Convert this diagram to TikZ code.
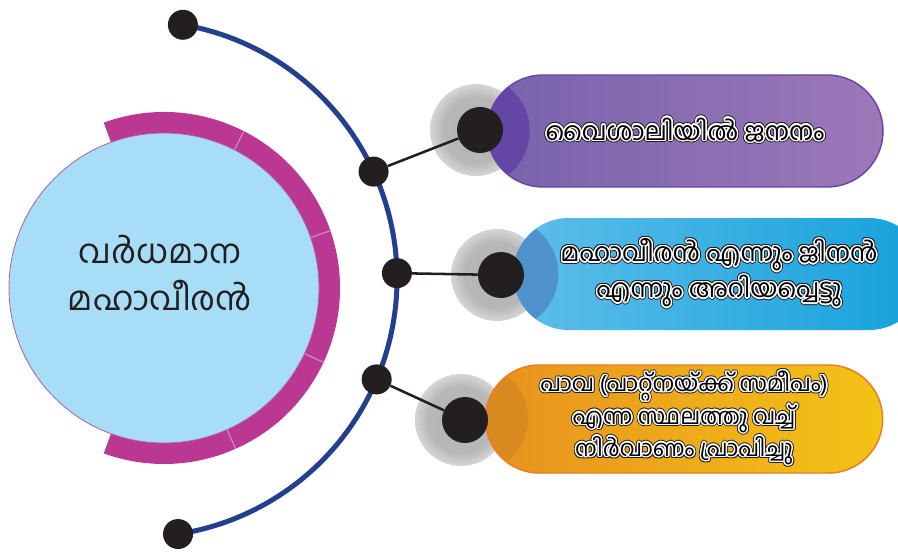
\documentclass[tikz,border=0pt]{standalone}
\usepackage{fontspec}
\newfontfamily\malfont[Script=Malayalam]{Hind Kochi}
\usepackage{contour}
\usetikzlibrary{arrows.meta}

\definecolor{hubblue}{HTML}{A7DDF6}
\definecolor{hubedge}{HTML}{B15BAA}
\definecolor{ringmagenta}{HTML}{BB3892}
\definecolor{ringsep}{HTML}{D98BC3}
\definecolor{arcblue}{HTML}{233F8D}
\definecolor{dotblack}{HTML}{231F20}
\definecolor{purpleL}{HTML}{7862AD}
\definecolor{purpleR}{HTML}{9C78B8}
\definecolor{purpleTab}{HTML}{5F40A3}
\definecolor{purpleEdge}{HTML}{6B45A8}
\definecolor{blueL}{HTML}{5DBEEA}
\definecolor{blueR}{HTML}{15A1DB}
\definecolor{blueTab}{HTML}{4F92CB}
\definecolor{orangeL}{HTML}{E8911E}
\definecolor{orangeR}{HTML}{F3C316}
\definecolor{orangeTab}{HTML}{D98A1F}
\definecolor{orangeEdge}{HTML}{EC7B1F}

\newcommand{\halo}[1]{\leavevmode\rlap{\contourlength{1.8pt}\contour{dotblack}{#1}}\contourlength{1.1pt}\contour{white}{#1}}

\pgfdeclareradialshading{dotglow}{\pgfpoint{0bp}{0bp}}{color(0bp)=(black!30); color(18bp)=(black!28); color(35bp)=(white); color(50bp)=(white)}

\begin{document}
\begin{tikzpicture}[x=0.75pt, y=0.75pt, font=\malfont,
	pill/.style={rectangle, rounded corners=42pt, minimum height=84pt, align=center, line width=1.1pt},
	smalldot/.style={circle, fill=dotblack, inner sep=0pt, minimum size=22.5pt},
	bigdot/.style={circle, fill=dotblack, inner sep=0pt, minimum size=34.5pt},
	arcline/.style={draw=arcblue, line width=3.75pt},
	linkline/.style={draw=dotblack, line width=1.9pt}]
	\useasboundingbox (0,0) rectangle (898,551);
	\coordinate (hubc) at (164,263);
	\coordinate (arcc) at (139,272);
	\fill[ringmagenta] ([shift={(110:176)}]hubc) arc[start angle=110, end angle=-110, radius=176] -- ++(70:21) arc[start angle=-110, end angle=110, radius=155] -- cycle;
	\foreach \a in {63,19,-25,-66}
	  \draw[ringsep, line width=0.8pt] ([shift={(\a:155)}]hubc) -- ([shift={(\a:176)}]hubc);
	\node[circle, fill=hubblue, draw=hubedge, line width=0.6pt, minimum size=232.5pt] (hub) at (hubc) {};
	\node[font=\malfont\fontsize{25}{35}\selectfont, align=center, text=dotblack] (hublabel) at (160,278) {വർധമാന\\മഹാവീരൻ};
	\path ([shift={(80.2:258)}]arcc) coordinate (topend)
	      ([shift={(-81.3:258)}]arcc) coordinate (bottomend)
	      ([shift={(24.6:258)}]arcc) coordinate (hookA)
	      ([shift={(1.3:258)}]arcc) coordinate (hookB)
	      ([shift={(-22.9:258)}]arcc) coordinate (hookC);
	\draw[arcline] (topend) arc[start angle=80.2, end angle=-81.3, radius=258];
	% glow behind the knobs
	\shade[shading=dotglow] (476,421) circle[radius=46];
	\shade[shading=dotglow] (497,276) circle[radius=46];
	\shade[shading=dotglow] (461,131) circle[radius=46];
	\node[pill, left color=purpleL, right color=purpleR, draw=purpleEdge, minimum width=297pt,
	  path picture={\fill[purpleTab!80!purpleL] (path picture bounding box.south west) rectangle ([xshift=32pt]path picture bounding box.north west);},
	  font=\malfont\fontsize{19}{27}\selectfont] (birth) at (685,420) {\halo{വൈശാലിയിൽ ജനനം}};
	\node[pill, left color=blueL, right color=blueR, minimum width=309pt,
	  path picture={\fill[blueTab] (path picture bounding box.south west) rectangle ([xshift=34pt]path picture bounding box.north west);},
	  font=\malfont\fontsize{19}{27}\selectfont] (names) at (719,277) {\halo{മഹാവീരൻ എന്നും ജിനൻ}\\\halo{എന്നും അറിയപ്പെട്ടു}};
	\node[pill, rounded corners=40.5pt, minimum height=81pt, left color=orangeL, right color=orangeR, draw=orangeEdge, minimum width=298pt,
	  path picture={\fill[orangeTab] (path picture bounding box.south west) rectangle ([xshift=32pt]path picture bounding box.north west);},
	  font=\malfont\fontsize{17}{22}\selectfont] (nirvana) at (684,132) {\halo{പാവ (പാറ്റ്നയ്ക്ക് സമീപം)}\\\halo{എന്ന സ്ഥലത്തു വച്ച്}\\\halo{നിർവാണം പ്രാപിച്ചു}};
	\node[smalldot] (endtop) at (topend) {};
	\node[smalldot] (endbottom) at (bottomend) {};
	\node[smalldot] (hook1) at (hookA) {};
	\node[smalldot] (hook2) at (hookB) {};
	\node[smalldot] (hook3) at (hookC) {};
	\node[bigdot] (knob1) at (480,421) {};
	\node[bigdot] (knob2) at (501,276) {};
	\node[bigdot] (knob3) at (465,131) {};
	\draw[linkline] (hook1) -- (knob1);
	\draw[linkline] (hook2) -- (knob2);
	\draw[linkline] (hook3) -- (knob3);
\end{tikzpicture}
\end{document}
